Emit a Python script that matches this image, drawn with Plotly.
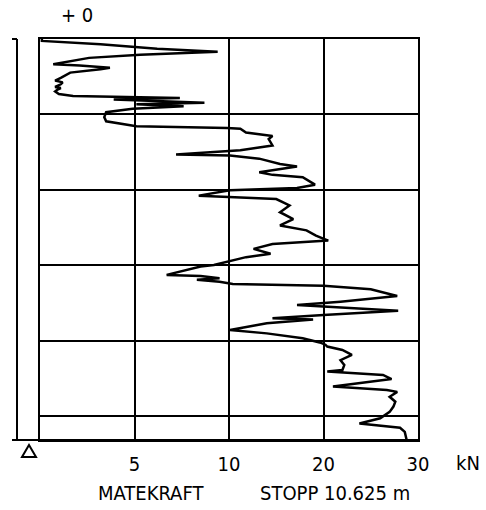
import plotly.graph_objects as go

# Feed force (kN) vs depth (m)
depth_m = [0.0, 0.05, 0.14, 0.20, 0.26, 0.34, 0.38, 0.42, 0.50, 0.67, 0.70, 0.76, 0.80, 0.89,
           1.03, 1.10, 1.15, 1.20, 1.27, 1.30, 1.35, 1.39, 1.46, 1.51, 1.56, 1.60, 1.69, 1.73,
           1.78, 1.85, 1.94, 2.07, 2.18, 2.27, 2.31, 2.36, 2.38, 2.48, 2.57, 2.65, 2.73, 2.82,
           2.95, 3.06, 3.09, 3.17, 3.31, 3.38, 3.53, 3.60, 3.66, 3.79, 3.86, 3.95, 4.01, 4.15,
           4.19, 4.24, 4.41, 4.59, 4.77, 4.94, 5.07, 5.21, 5.34, 5.43, 5.56, 5.69, 5.78, 5.91,
           5.99, 6.03, 6.25, 6.28, 6.34, 6.38, 6.43, 6.49, 6.54, 6.63, 6.81, 6.96, 7.05, 7.09,
           7.20, 7.31, 7.40, 7.43, 7.53, 7.71, 7.80, 7.93, 8.04, 8.10, 8.15, 8.24, 8.37, 8.51,
           8.64, 8.77, 8.81, 8.90, 9.01, 9.21, 9.30, 9.35, 9.48, 9.61, 9.74, 9.88, 10.05, 10.19,
           10.25, 10.30, 10.41, 10.58, 10.625]
force_kN = [0.1, 0.1, 3.2, 4.9, 6.2, 9.4, 7.4, 5.3, 2.6, 0.7, 2.1, 3.7, 3.2, 1.6,
            1.1, 0.8, 1.2, 1.1, 0.8, 1.1, 0.9, 0.8, 1.0, 1.75, 7.4, 3.9, 8.7, 5.1,
            7.6, 4.9, 3.5, 3.4, 3.5, 4.6, 5.1, 9.9, 11.2, 11.8, 14.6, 14.2, 14.4, 14.6,
            11.2, 7.2, 10.1, 13.2, 15.4, 17.2, 13.2, 14.6, 17.8, 18.6, 19.1, 17.2, 10.1, 8.4,
            11.2, 15.0, 16.4, 15.4, 16.8, 15.4, 18.2, 19.2, 20.5, 14.6, 12.6, 14.4, 11.8, 9.9,
            9.2, 8.5, 6.7, 8.5, 9.5, 8.3, 9.5, 10.4, 20.0, 25.0, 27.8, 21.8, 17.2, 20.0,
            27.9, 20.0, 14.6, 18.9, 14.0, 10.1, 14.0, 17.8, 19.6, 20.2, 20.4, 22.0, 23.0, 21.8,
            22.2, 22.0, 20.4, 26.3, 27.2, 21.0, 26.7, 27.8, 27.0, 27.6, 27.4, 27.0, 26.0, 23.8,
            26.0, 28.1, 28.6, 28.8, 28.8]

tick_values_kN = [5, 10, 20, 30]
tick_labels = ["5", "10", "20", "30"]
depth_grid_m = [2, 4, 6, 8, 10]
stop_depth = 10.625


def scale_x(f):
    # chart scale: 0-10 kN on the first half, 10-30 kN on the second half
    return f if f <= 10 else 10 + (f - 10) / 2.0


xs = [scale_x(f) for f in force_kN]
tickvals = [scale_x(t) for t in tick_values_kN]

W, H = 486, 510
L, R, T, B = 40, 418, 39, 440


def px(x):
    return (x - L) / (R - L)


def py(y):
    return 1 - (y - T) / (B - T)


FONT = "DejaVu Sans Condensed, DejaVu Sans, sans-serif"
FS = 20

fig = go.Figure()
fig.add_trace(go.Scatter(x=xs, y=depth_m, mode="lines",
                         line=dict(color="black", width=2.5), hoverinfo="skip"))

fig.update_layout(
    width=W, height=H,
    margin=dict(l=L, r=W - R, t=T, b=H - B),
    paper_bgcolor="white", plot_bgcolor="white",
    showlegend=False,
    font=dict(family=FONT, size=FS, color="black"),
    xaxis=dict(range=[0, 20], tickvals=tickvals, ticktext=tick_labels,
               showgrid=True, gridcolor="black", gridwidth=2,
               showline=True, linecolor="black", linewidth=2, mirror=True,
               ticks="", zeroline=False, ticklabelstandoff=5,
               tickfont=dict(family=FONT, size=FS, color="black")),
    yaxis=dict(range=[stop_depth, 0], tickvals=depth_grid_m, showticklabels=False,
               showgrid=True, gridcolor="black", gridwidth=2,
               showline=True, linecolor="black", linewidth=2, mirror=True,
               ticks="", zeroline=False),
)

shapes = [
    # left depth bracket
    dict(type="line", xref="paper", yref="paper", x0=px(17), x1=px(17), y0=py(39), y1=py(440),
         line=dict(color="black", width=2)),
    dict(type="line", xref="paper", yref="paper", x0=px(12), x1=px(17), y0=py(39), y1=py(39),
         line=dict(color="black", width=2)),
    dict(type="line", xref="paper", yref="paper", x0=px(12), x1=px(420), y0=py(440), y1=py(440),
         line=dict(color="black", width=2)),
    # triangle marker
    dict(type="path", xref="paper", yref="paper",
         path=f"M {px(29)} {py(445)} L {px(36)} {py(457)} L {px(22)} {py(457)} Z",
         line=dict(color="black", width=2), fillcolor="rgba(0,0,0,0)"),
]
fig.update_layout(shapes=shapes)

annos = [
    dict(text="+ 0", x=px(77), y=py(15)),
    dict(text="kN", x=px(468), y=py(463)),
    dict(text="MATEKRAFT", x=px(151), y=py(493)),
    dict(text="STOPP 10.625 m", x=px(335), y=py(493)),
]
for a in annos:
    fig.add_annotation(xref="paper", yref="paper", showarrow=False,
                       xanchor="center", yanchor="middle",
                       font=dict(family=FONT, size=FS, color="black"), **a)

fig.write_html("out.html", config={"displayModeBar": False},
               post_script="document.body.style.margin='0';")
